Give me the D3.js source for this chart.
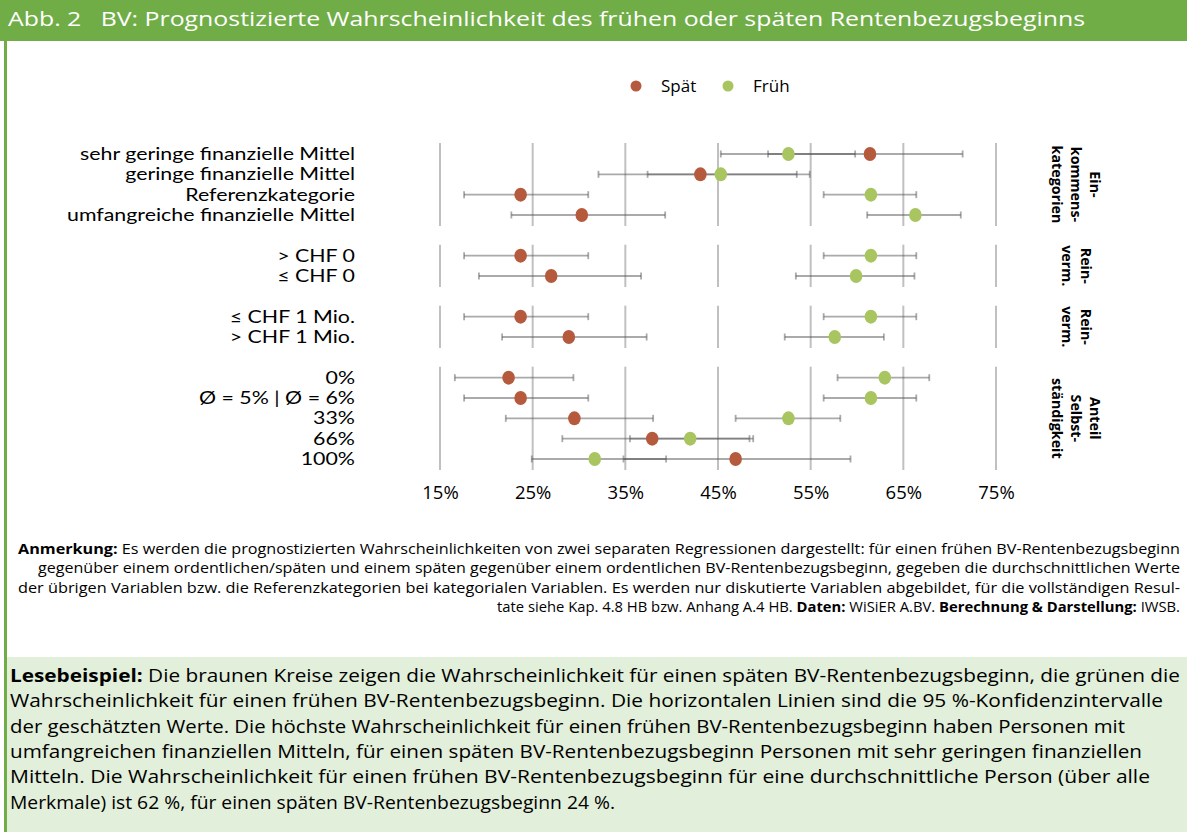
<!DOCTYPE html>
<meta charset="utf-8">
<script src="https://d3js.org/d3.v7.min.js"></script>
<style>
  body { margin: 0; background: #fff; }
  text { font-family: "Open Sans", "Noto Sans", sans-serif; fill: #000; }
</style>
<div id="chart"></div>
<script>

// categories (top to bottom) and the panel each belongs to
const categories = ["sehr geringe finanzielle Mittel", "geringe finanzielle Mittel", "Referenzkategorie",
  "umfangreiche finanzielle Mittel", "> CHF 0", "≤ CHF 0", "≤ CHF 1 Mio.", "> CHF 1 Mio.",
  "0%", "Ø = 5% | Ø = 6%", "33%", "66%", "100%"];
const groupOf = [0, 0, 0, 0, 1, 1, 2, 2, 3, 3, 3, 3, 3];
const groupLabels = [["Ein-", "kommens-", "kategorien"], ["Rein-", "verm."], ["Rein-", "verm."],
  ["Anteil", "Selbst-", "ständigkeit"]];

// predicted probabilities (%) and 95% confidence intervals
const spaet   = [61.4, 43.1, 23.7, 30.3, 23.7, 27.0, 23.7, 28.9, 22.4, 23.7, 29.5, 37.9, 46.9];
const spaetLo = [50.4, 32.1, 17.6, 22.7, 17.6, 19.2, 17.6, 21.7, 16.6, 17.6, 22.1, 28.2, 34.8];
const spaetHi = [71.4, 54.9, 31.0, 39.3, 31.0, 36.7, 31.0, 37.3, 29.4, 31.0, 38.0, 48.4, 59.3];
const frueh   = [52.6, 45.3, 61.5, 66.3, 61.5, 59.9, 61.5, 57.6, 63.0, 61.5, 52.6, 42.0, 31.7];
const fruehLo = [45.3, 37.4, 56.4, 61.1, 56.4, 53.4, 56.4, 52.2, 57.9, 56.4, 46.9, 35.5, 24.9];
const fruehHi = [59.8, 53.5, 66.4, 71.2, 66.4, 66.2, 66.4, 62.9, 67.8, 66.4, 58.2, 48.8, 39.4];

const xTicks = [15, 25, 35, 45, 55, 65, 75];
const seriesNames = ["Spät", "Früh"];

const colSpaet = "#b65a3d", colFrueh = "#a8c560", green = "#70ad47";

const W = 1187, H = 832;
const svg = d3.select("#chart").append("svg")
  .attr("width", W).attr("height", H);

// ---- frame: title bar, left border, reading box
svg.append("rect").attr("x", 0).attr("y", 0).attr("width", W).attr("height", 41).attr("fill", green);
svg.append("rect").attr("x", 4).attr("y", 41).attr("width", 3).attr("height", H - 41).attr("fill", green);
svg.append("rect").attr("x", 7).attr("y", 657).attr("width", W - 7).attr("height", H - 657).attr("fill", "#e2efda");

svg.append("text")
  .attr("x", 8).attr("y", 26)
  .style("font-size", "20.5px").style("fill", "#fff")
  .attr("textLength", 1077).attr("lengthAdjust", "spacingAndGlyphs")
  .text("Abb. 2\u00a0\u00a0\u00a0BV: Prognostizierte Wahrscheinlichkeit des frühen oder späten Rentenbezugsbeginns");

// ---- scales
const x = d3.scaleLinear().domain([15, 75]).range([440, 996]);
const slot = (i) => i + groupOf[i];          // one empty slot between panels
const y = d3.scaleLinear().domain([0, 15]).range([154, 459]);

const rows = categories.map((c, i) => ({
  cat: c, g: groupOf[i], y: y(slot(i)),
  s: spaet[i], sLo: spaetLo[i], sHi: spaetHi[i],
  f: frueh[i], fLo: fruehLo[i], fHi: fruehHi[i]
}));

// ---- panel gridlines
const panels = groupLabels.map((lab, g) => {
  const r = rows.filter(d => d.g === g);
  return { g: g, lab: lab, y1: r[0].y - 11, y2: r[r.length - 1].y + 11 };
});

panels.forEach(p => {
  svg.append("g").selectAll("line")
    .data(xTicks).join("line")
      .attr("x1", d => x(d)).attr("x2", d => x(d))
      .attr("y1", p.y1).attr("y2", p.y2)
      .attr("stroke", "#c0c0c0").attr("stroke-width", 2);

  // rotated group label on the right
  const t = svg.append("text")
    .attr("transform", `translate(1076, ${(p.y1 + p.y2) / 2}) rotate(90)`)
    .attr("text-anchor", "middle")
    .style("font-size", "14.3px").style("font-weight", "bold");
  const n = p.lab.length;
  p.lab.forEach((l, k) => {
    t.append("tspan").attr("x", 0)
      .attr("y", (k - (n - 1) / 2) * 19 + 5)
      .text(l);
  });
});

// ---- category labels (Lato keeps the tight row spacing readable, widened to match)
const catText = svg.append("g").selectAll("text")
  .data(rows).join("text")
    .attr("x", 355).attr("y", d => d.y + 6)
    .attr("text-anchor", "end")
    .style("font-family", "Lato, 'Open Sans', sans-serif")
    .style("font-size", "16.8px")
    .text(d => d.cat);
const k = 275 / catText.node().getComputedTextLength();
catText.each(function() {
  const w = this.getComputedTextLength();
  d3.select(this).attr("textLength", w * k).attr("lengthAdjust", "spacingAndGlyphs");
});

// ---- confidence intervals
const errs = [];
rows.forEach(d => {
  errs.push({ y: d.y, lo: d.sLo, hi: d.sHi });
  errs.push({ y: d.y, lo: d.fLo, hi: d.fHi });
});
const eg = svg.append("g").attr("stroke", "#555").attr("stroke-opacity", 0.5).attr("stroke-width", 1.8);
eg.selectAll(".bar").data(errs).join("line")
  .attr("x1", d => x(d.lo)).attr("x2", d => x(d.hi))
  .attr("y1", d => d.y).attr("y2", d => d.y);
eg.selectAll(".capl").data(errs).join("line")
  .attr("x1", d => x(d.lo)).attr("x2", d => x(d.lo))
  .attr("y1", d => d.y - 3.5).attr("y2", d => d.y + 3.5);
eg.selectAll(".caph").data(errs).join("line")
  .attr("x1", d => x(d.hi)).attr("x2", d => x(d.hi))
  .attr("y1", d => d.y - 3.5).attr("y2", d => d.y + 3.5);

// ---- dots
svg.append("g").selectAll("ellipse")
  .data(rows).join("ellipse")
    .attr("cx", d => x(d.f)).attr("cy", d => d.y)
    .attr("rx", 6.3).attr("ry", 7).attr("fill", colFrueh);
svg.append("g").selectAll("ellipse")
  .data(rows).join("ellipse")
    .attr("cx", d => x(d.s)).attr("cy", d => d.y)
    .attr("rx", 6.3).attr("ry", 7).attr("fill", colSpaet);

// ---- x axis labels
const xAxis = svg.append("g")
  .attr("transform", "translate(0, 483)")
  .call(d3.axisBottom(x).tickValues(xTicks).tickFormat(d => d + "%").tickSize(0));
xAxis.select(".domain").remove();
xAxis.selectAll("text")
  .style("font-size", "18.5px")
  .style("font-family", "'Open Sans', sans-serif");

// ---- legend
const legend = svg.append("g");
[[636, colSpaet], [728, colFrueh]].forEach((p, i) => {
  legend.append("circle").attr("cx", p[0]).attr("cy", 86).attr("r", 5.5).attr("fill", p[1]);
  legend.append("text").attr("x", p[0] + 25).attr("y", 92)
    .style("font-size", "17px").text(seriesNames[i]);
});

// ---- note lines (right aligned)
const noteLines = [
  { x0: 18, y: 554, parts: [["Anmerkung:", true], [" Es werden die prognostizierten Wahrscheinlichkeiten von zwei separaten Regressionen dargestellt: für einen frühen BV-Rentenbezugsbeginn", false]] },
  { x0: 38, y: 573, parts: [["gegenüber einem ordentlichen/späten und einem späten gegenüber einem ordentlichen BV-Rentenbezugsbeginn, gegeben die durchschnittlichen Werte", false]] },
  { x0: 18, y: 593, parts: [["der übrigen Variablen bzw. die Referenzkategorien bei kategorialen Variablen. Es werden nur diskutierte Variablen abgebildet, für die vollständigen Resul-", false]] },
  { x0: 497, y: 612, parts: [["tate siehe Kap. 4.8 HB bzw. Anhang A.4 HB. ", false], ["Daten:", true], [" WiSiER A.BV. ", false], ["Berechnung & Darstellung:", true], [" IWSB.", false]] }
];
noteLines.forEach(l => {
  const t = svg.append("text").attr("x", l.x0).attr("y", l.y)
    .style("font-size", "14px")
    .attr("textLength", 1180 - l.x0).attr("lengthAdjust", "spacingAndGlyphs");
  l.parts.forEach(p => t.append("tspan").style("font-weight", p[1] ? "bold" : "normal").text(p[0]));
});

// ---- reading example
const readLines = [
  { x1: 1180, parts: [["Lesebeispiel:", true], [" Die braunen Kreise zeigen die Wahrscheinlichkeit für einen späten BV-Rentenbezugsbeginn, die grünen die", false]] },
  { x1: 1163, parts: [["Wahrscheinlichkeit für einen frühen BV-Rentenbezugsbeginn. Die horizontalen Linien sind die 95 %-Konfidenzintervalle", false]] },
  { x1: 1125, parts: [["der geschätzten Werte. Die höchste Wahrscheinlichkeit für einen frühen BV-Rentenbezugsbeginn haben Personen mit", false]] },
  { x1: 1142, parts: [["umfangreichen finanziellen Mitteln, für einen späten BV-Rentenbezugsbeginn Personen mit sehr geringen finanziellen", false]] },
  { x1: 1150, parts: [["Mitteln. Die Wahrscheinlichkeit für einen frühen BV-Rentenbezugsbeginn für eine durchschnittliche Person (über alle", false]] },
  { x1: 615, parts: [["Merkmale) ist 62 %, für einen späten BV-Rentenbezugsbeginn 24 %.", false]] }
];
readLines.forEach((l, i) => {
  const t = svg.append("text").attr("x", 10).attr("y", 682 + i * 25.3)
    .style("font-size", "17.5px")
    .attr("textLength", l.x1 - 10).attr("lengthAdjust", "spacingAndGlyphs");
  l.parts.forEach(p => t.append("tspan").style("font-weight", p[1] ? "bold" : "normal").text(p[0]));
});

</script>
